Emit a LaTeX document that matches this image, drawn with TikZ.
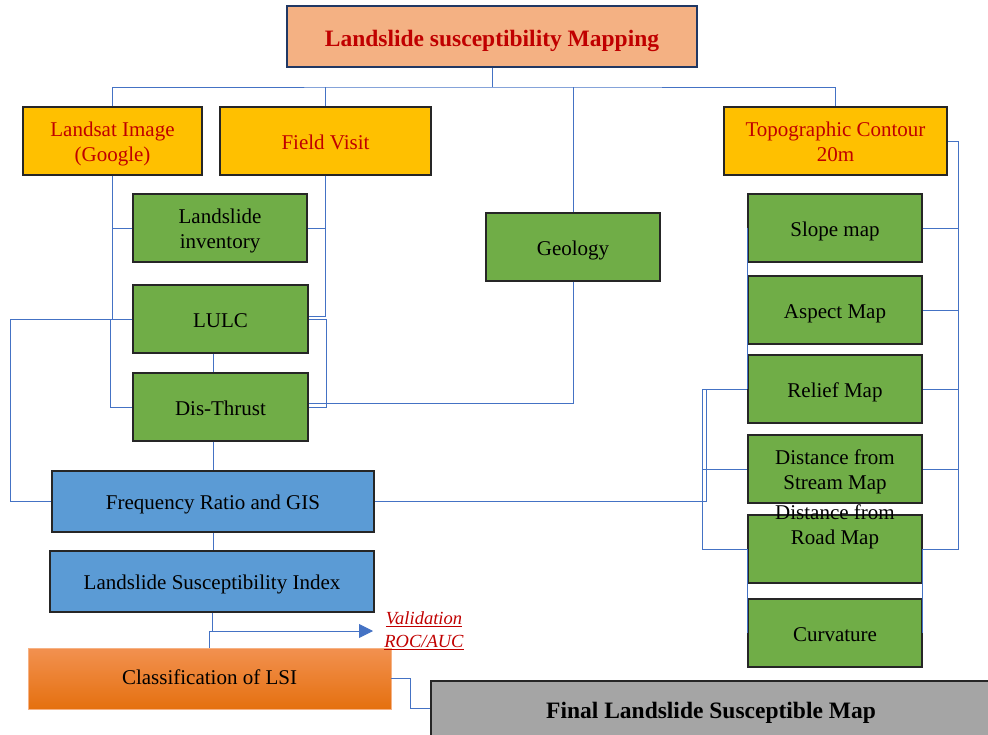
\documentclass[tikz,border=0pt]{standalone}
\usepackage{fontspec}
\setmainfont{Liberation Serif}
\usetikzlibrary{arrows.meta,calc}
\definecolor{lineblue}{HTML}{4472C4}
\definecolor{titlefill}{HTML}{F4B183}
\definecolor{titleborder}{HTML}{203864}
\definecolor{txtred}{HTML}{C00000}
\definecolor{yel}{HTML}{FFC000}
\definecolor{grn}{HTML}{70AD47}
\definecolor{blu}{HTML}{5B9BD5}
\definecolor{gry}{HTML}{A5A5A5}
\definecolor{orgtop}{HTML}{F29150}
\definecolor{orgbot}{HTML}{E5700F}
\newcommand{\boxtxt}[2][-3pt]{\raisebox{#1}[\height][\depth]{\begin{tabular}{@{}c@{}}#2\end{tabular}}}
\begin{document}
\begin{tikzpicture}[x=1pt,y=-1pt,
 conn/.style={draw=lineblue, line width=0.9pt},
 bodyfont/.style={font=\fontsize{21}{25.5}\selectfont},
 box/.style={draw=black!85, line width=1.8pt, align=center, inner sep=2pt, bodyfont},
 srcbox/.style={box, fill=yel, text=txtred, minimum height=68pt},
 gbox/.style={box, fill=grn, minimum width=174pt, minimum height=68pt},
 bbox/.style={box, fill=blu, minimum height=61pt},
]
\useasboundingbox (0,0) rectangle (988,735);

\node[box, fill=titlefill, draw=titleborder, text=txtred, font=\bfseries\fontsize{23.5}{28}\selectfont, minimum width=410pt, minimum height=61pt] (title) at (492,36.5) {\boxtxt[-4pt]{Landslide susceptibility Mapping}};

\node[srcbox, minimum width=179pt] (landsat) at (112.5,141) {\boxtxt{Landsat Image\\(Google)}};
\node[srcbox, minimum width=211pt] (field) at (325.5,141) {\boxtxt{Field Visit}};
\node[srcbox, minimum width=223pt] (topo) at (835.5,141) {\boxtxt{Topographic Contour\\20m}};

\node[gbox] (inv) at (220,228) {\boxtxt{Landslide\\inventory}};
\node[gbox, minimum width=175pt] (lulc) at (220.5,319) {\boxtxt{LULC}};
\node[gbox, minimum width=175pt] (dis) at (220.5,407) {\boxtxt{Dis-Thrust}};
\node[gbox] (geo) at (573,247) {\boxtxt{Geology}};

\node[gbox] (slope) at (835,228) {\boxtxt{Slope map}};
\node[gbox] (aspect) at (835,310) {\boxtxt{Aspect Map}};
\node[gbox] (relief) at (835,389) {\boxtxt{Relief Map}};
\node[gbox] (stream) at (835,469) {\boxtxt{Distance from\\Stream Map}};
\node[gbox] (road) at (835,549) {};
\node[bodyfont, inner sep=0pt] (roadtxt) at (835,524) {\boxtxt{Distance from\\Road Map}};
\node[gbox] (curv) at (835,633) {\boxtxt{Curvature}};

\node[bbox, minimum width=322pt] (freq) at (213,501.5) {\boxtxt{Frequency Ratio and GIS}};
\node[bbox, minimum width=324pt] (lsi) at (212,581.5) {\boxtxt{Landslide Susceptibility Index}};
\node[box, draw=orgtop!70!white, line width=0.8pt, top color=orgtop, bottom color=orgbot, minimum width=363pt, minimum height=61pt] (class) at (209.5,678.5) {\boxtxt[-1pt]{Classification of LSI}};

\node[box, fill=gry, minimum width=580pt, minimum height=56pt, anchor=north west] (final) at (430,680) {};
\node[font=\bfseries\fontsize{23.5}{28}\selectfont, inner sep=0pt] (finaltxt) at (711,713) {Final Landslide Susceptible Map};

\node[text=txtred, font=\itshape\fontsize{18.5}{23}\selectfont, align=center, inner sep=1pt] (valid) at (424,630.5) {\underline{Validation}\\\underline{ROC/AUC}};

% connectors
\coordinate (bus) at (492,87);
\draw[conn] (title.south) -- (bus);
\draw[conn] (landsat.north) |- (bus) -| (topo.north);
\draw[conn] (field.north) -- (field.north |- bus);
\draw[conn] (geo.north) -- (geo.north |- bus);

\draw[conn] (landsat.south) |- (inv.west);
\draw[conn] (landsat.south) |- (lulc.west);
\coordinate (lx) at (10,319);
\draw[conn] (lulc.west) -- (lx) |- (freq.west);
\draw[conn] ([xshift=-22pt]lulc.west) |- (dis.west);

\draw[conn] (field.south) |- (inv.east);
\draw[conn] (field.south) |- ([yshift=3pt]lulc.east);
\draw[conn] (lulc.east) -- ++(18,0) |- (dis.east);
\draw[conn] (geo.south) |- ([yshift=4pt]dis.east);

\draw[conn] (lulc.south -| freq.north) -- (dis.north -| freq.north);
\draw[conn] (dis.south -| freq.north) -- (freq.north);
\draw[conn] (freq.south) -- (lsi.north -| freq.south);

\coordinate (tip) at (373,631);
\draw[conn] (lsi.south) -- (lsi.south |- tip);
\draw[conn, -{Triangle[length=14pt,width=14pt]}] (class.north) |- (tip);
\draw[conn] (class.east) -- ++(19,0) |- (final.west);

\draw[conn] (freq.east) -- ([xshift=-41pt]freq.east -| relief.west) |- (relief.west);
\draw[conn] (relief.west) -- ++(-45,0) |- (road.west);
\draw[conn] (stream.west) -- ++(-45,0);
\draw[conn] (slope.west) -- (relief.west);
\draw[conn] (road.west) -- (curv.west);
\draw[conn] (road.east) -- (curv.east);
\draw[conn] (topo.east) -- ++(11,0) coordinate (rb) |- (road.east);
\foreach \n in {slope,aspect,relief,stream} \draw[conn] (\n.east) -- (\n.east -| rb);
\end{tikzpicture}
\end{document}
